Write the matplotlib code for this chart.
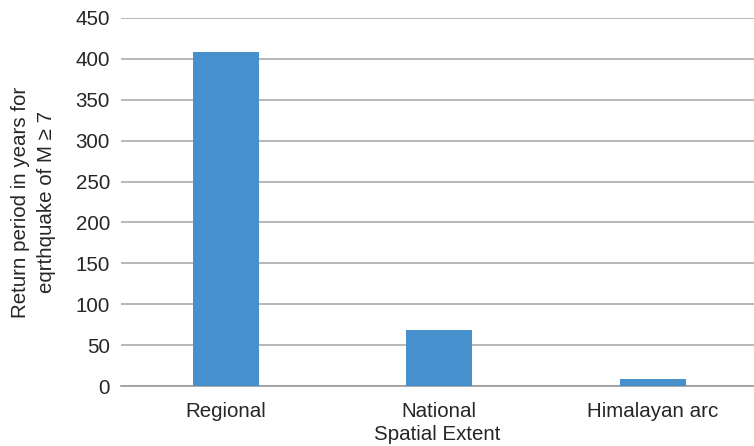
import matplotlib
matplotlib.use("Agg")
import matplotlib.pyplot as plt

# Return period by spatial extent
categories = ["Regional", "National", "Himalayan arc"]
return_period = [408, 68.5, 8.6]
y_ticks = [0, 50, 100, 150, 200, 250, 300, 350, 400, 450]

plt.rcParams["font.family"] = ["Liberation Sans", "DejaVu Sans"]
text_color = "#262626"

fig = plt.figure(figsize=(7.54, 4.46), dpi=100)
W, H = 754, 446
left, right, bottom, top = 121, 754, 386, 18
ax = fig.add_axes([left / W, (H - bottom) / H, (right - left) / W, (bottom - top) / H])

x = list(range(len(categories)))
ax.bar(x, return_period, width=0.31, color="#4690CD", zorder=3)

ax.set_xlim(-0.49, 2.473)
ax.set_ylim(0, 450)
ax.set_yticks(y_ticks)
ax.set_xticks(x)
ax.set_xticklabels(categories)
ax.yaxis.grid(True, color="#ababab", linewidth=1.2, zorder=0)
ax.set_axisbelow(True)

for s in ["top", "right", "left"]:
    ax.spines[s].set_visible(False)
ax.spines["bottom"].set_color("#9a9a9a")
ax.spines["bottom"].set_linewidth(1.2)

ax.tick_params(axis="both", length=0, labelsize=14.8, colors=text_color)
ax.tick_params(axis="y", pad=8)
ax.tick_params(axis="x", pad=11.5)

ax.set_xlabel("Spatial Extent", fontsize=14.8, color=text_color, labelpad=3)
ax.set_ylabel("Return period in years for\neqrthquake of M \u2265 7", fontsize=14.8,
              color=text_color, labelpad=14, linespacing=1.45)

fig.savefig("out.png", dpi=100)
